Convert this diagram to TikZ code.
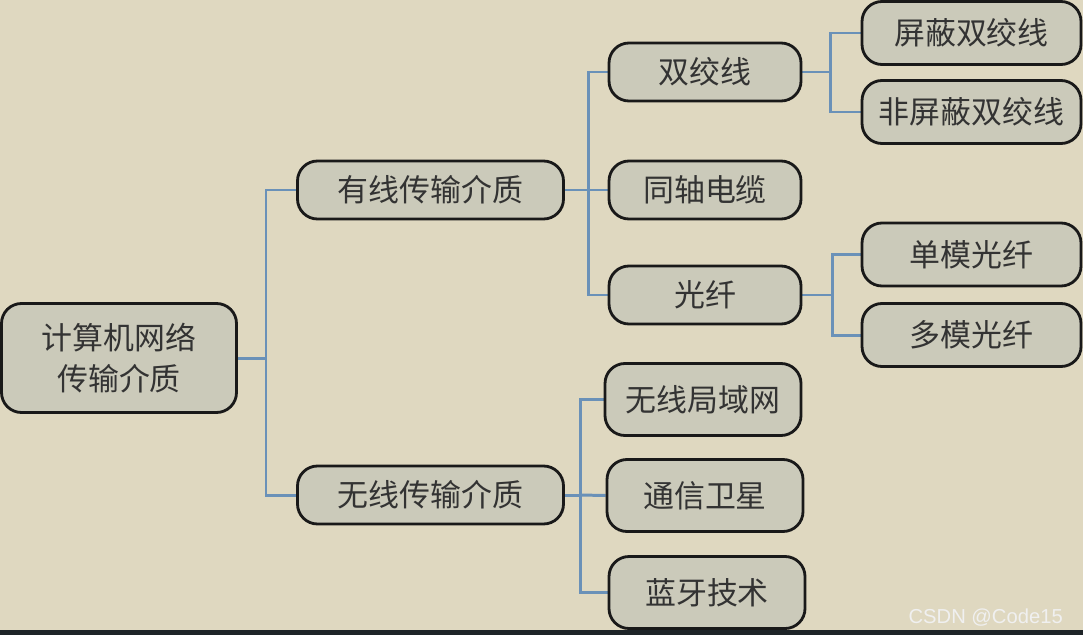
\documentclass[tikz,border=0pt]{standalone}
\usepackage{fontspec}
\newfontfamily\cjk{Noto Sans CJK SC}
\newfontfamily\wmfont{Liberation Sans}
\usepackage{tikz}
\usetikzlibrary{backgrounds}
\definecolor{paper}{HTML}{DFD8C0}
\definecolor{boxfill}{HTML}{CBCABA}
\definecolor{linkblue}{HTML}{6A91B8}
\definecolor{inkgray}{HTML}{333333}
\definecolor{barcol}{HTML}{1E2428}

\begin{document}
\begin{tikzpicture}[
  medium/.style={rectangle, rounded corners=0.4cm, draw=black!90, line width=1.6pt,
    fill=boxfill, text=inkgray, align=center, font=\cjk\fontsize{17.6}{23}\selectfont},
  rootbox/.style={medium, minimum width=4.7cm, minimum height=2.18cm},
  kind/.style={medium, minimum width=5.32cm, minimum height=1.16cm},
  sub/.style={medium, minimum width=3.84cm, minimum height=1.16cm},
  wsub/.style={medium, minimum width=3.92cm, minimum height=1.44cm},
  leaf/.style={medium, minimum width=4.38cm, minimum height=1.26cm},
  link/.style={linkblue, line width=1.7pt},
]
\useasboundingbox (0,0) rectangle (21.66,-12.7);

\node[rootbox] (root) at (2.38,-7.16) {计算机网络\\传输介质};
\node[kind] (wired) at (8.61,-3.8) {有线传输介质};
\node[kind] (wireless) at (8.61,-9.9) {无线传输介质};
\node[sub] (twisted) at (14.1,-1.44) {双绞线};
\node[sub] (coax) at (14.1,-3.8) {同轴电缆};
\node[sub] (fiber) at (14.1,-5.9) {光纤};
\node[leaf] (stp) at (19.43,-0.66) {屏蔽双绞线};
\node[leaf] (utp) at (19.43,-2.24) {非屏蔽双绞线};
\node[leaf] (smf) at (19.43,-5.09) {单模光纤};
\node[leaf] (mmf) at (19.43,-6.7) {多模光纤};
\node[wsub] (wlan) at (14.06,-7.99) {无线局域网};
\node[wsub] (sat) at (14.1,-9.91) {通信卫星};
\node[wsub] (bt) at (14.14,-11.85) {蓝牙技术};
\node[text=white!88!gray, font=\wmfont\fontsize{11.5}{13}\selectfont, anchor=east] (mark) at (21.38,-12.36) {CSDN @Code15};

\coordinate (j0) at (5.32,-7.16);
\coordinate (j1) at (11.76,-3.8);
\coordinate (j2) at (16.6,-1.44);
\coordinate (j3) at (16.64,-5.9);
\coordinate (j4) at (11.6,-9.9);

\begin{scope}[on background layer]
\fill[paper] (0,0) rectangle (21.66,-12.7);
\fill[barcol] (0,-12.6) rectangle (21.66,-12.7);
\draw[link] (root.east) -- (j0) |- (wired.west);
\draw[link] (j0) |- (wireless.west);
\draw[link] (wired.east) -- (j1) |- (twisted.west);
\draw[link] (j1) -- (coax.west);
\draw[link] (j1) |- (fiber.west);
\draw[link] (twisted.east) -- (j2) |- (stp.west);
\draw[link] (j2) |- (utp.west);
\draw[link] (fiber.east) -- (j3) |- (smf.west);
\draw[link] (j3) |- (mmf.west);
\draw[link] (wireless.east) -- (j4) |- (wlan.west);
\draw[link] (j4) -- (sat.west);
\draw[link] (j4) |- (bt.west);
\end{scope}
\end{tikzpicture}
\end{document}
